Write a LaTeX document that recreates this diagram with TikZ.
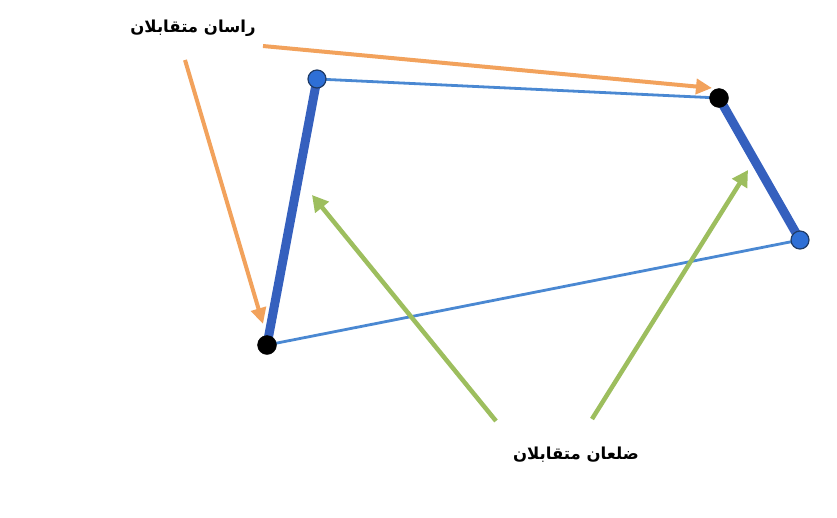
\documentclass[tikz,border=0pt]{standalone}
\usepackage{fontspec}
\usetikzlibrary{arrows.meta}
\newfontfamily\arabicfont[Script=Arabic]{DejaVu Sans}
\TeXXeTstate=1
\definecolor{thickblue}{HTML}{3560BE}
\definecolor{thinblue}{HTML}{4A88D2}
\definecolor{vblue}{HTML}{2E6FD6}
\definecolor{vedge}{HTML}{1F3B66}
\definecolor{orangearr}{HTML}{F2A25C}
\definecolor{greenarr}{HTML}{9DBE5E}
\tikzset{
  thickside/.style={draw=thickblue,line width=9pt},
  thinside/.style={draw=thinblue,line width=2.8pt},
  bluevert/.style={circle,fill=vblue,draw=vedge,line width=1.2pt,minimum size=18pt,inner sep=0pt},
  blackvert/.style={circle,fill=black,draw=black,minimum size=19pt,inner sep=0pt},
  orangearrow/.style={draw=orangearr,line width=4pt,-{Triangle[length=16pt,width=15pt]}},
  greenarrow/.style={draw=greenarr,line width=4.5pt,-{Triangle[length=16pt,width=17pt]}},
  lbl/.style={font=\arabicfont\bfseries\fontsize{16.5}{20}\selectfont,text=black}
}
\begin{document}
\begin{tikzpicture}[x=1pt,y=-1pt]
\useasboundingbox (0,0) rectangle (837,517);
% vertices as coordinates
\coordinate (A) at (317,79);
\coordinate (B) at (719,98);
\coordinate (C) at (800,240);
\coordinate (D) at (267,345);
% sides
\draw[thinside] (A) -- (B);
\draw[thinside] (D) -- (C);
\draw[thickside] (A) -- (D);
\draw[thickside] (B) -- (C);
% vertex dots
\node[bluevert] (vA) at (A) {};
\node[blackvert] (vB) at (B) {};
\node[bluevert] (vC) at (C) {};
\node[blackvert] (vD) at (D) {};
% labels
\node[lbl] (top) at (193,28) {\beginR راسان متقابلان\endR};
\node[lbl] (bot) at (576,455) {\beginR ضلعان متقابلان\endR};
% arrow anchors
\coordinate (o1s) at (263,46);
\coordinate (o1e) at (712,88);
\coordinate (o2s) at (185,60);
\coordinate (o2e) at (263,324);
\coordinate (g1s) at (496,421);
\coordinate (g1e) at (312,195);
\coordinate (g2s) at (592,419);
\coordinate (g2e) at (748,170);
\draw[orangearrow] (o1s) -- (o1e);
\draw[orangearrow] (o2s) -- (o2e);
\draw[greenarrow] (g1s) -- (g1e);
\draw[greenarrow] (g2s) -- (g2e);
\end{tikzpicture}
\end{document}
